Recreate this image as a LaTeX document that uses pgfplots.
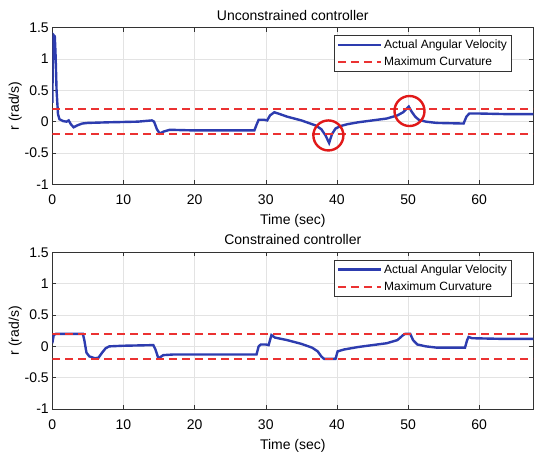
\documentclass[border=0pt]{standalone}
\usepackage{fontspec}
\setmainfont{Liberation Sans}
\usepackage{pgfplots}
\pgfplotsset{compat=1.18}

\definecolor{mblue}{RGB}{45,60,175}
\definecolor{mred}{RGB}{235,50,50}
\definecolor{cred}{RGB}{225,25,25}

\pgfplotsset{
  ctrl/.style={
    width=481pt, height=156.6pt, scale only axis,
    xmin=0, xmax=67.6, ymin=-1, ymax=1.5,
    xtick={0,10,...,60}, ytick={-1,-0.5,0,0.5,1,1.5},
    tick align=inside, xtick pos=both, ytick pos=both,
    major tick length=4pt,
    grid=major, grid style={gray!22, line width=0.5pt},
    axis line style={black!80, line width=0.6pt},
    tick style={black!80, line width=0.5pt},
    /pgf/number format/assume math mode=true,
    tick label style={font=\fontsize{14}{16}\selectfont},
    xticklabel style={yshift=-7pt},
    label style={font=\fontsize{14}{16}\selectfont},
    title style={font=\fontsize{14}{16}\selectfont, yshift=-2pt},
    xlabel={Time (sec)}, ylabel={r (rad/s)},
    xlabel style={yshift=-3pt}, ylabel style={yshift=-4pt},
    legend style={font=\fontsize{12}{13}\selectfont, draw=black!80,
      at={(0.955,0.953)}, anchor=north east, inner sep=2.5pt,
      row sep=3pt, line width=0.6pt},
    legend cell align=left,
  },
  vel/.style={mblue, line width=2.4pt,
    legend image code/.code={\draw[mblue, line width=2.4pt] (0pt,0pt) -- (43pt,0pt);}},
  lim/.style={mred, line width=1.5pt, dash pattern=on 8pt off 5pt,
    legend image code/.code={\draw[mred, line width=1.5pt, dash pattern=on 8pt off 5pt] (0pt,0pt) -- (43pt,0pt);}},
}

\begin{document}
\begin{tikzpicture}
\begin{axis}[ctrl, title={Unconstrained controller}]
\addplot[vel] coordinates {
(0,0.3) (0.1,1.2) (0.2,1.38) (0.35,1.36) (0.45,1.1) (0.6,0.5) (0.8,0.12)
(1.0,0.04) (1.5,0.01) (2.0,0.0) (2.3,0.02) (2.6,-0.04) (3.0,-0.09) (3.5,-0.06)
(4.2,-0.03) (5,-0.02) (8,-0.01) (12,0.0) (14,0.02) (14.3,0.0) (14.7,-0.12)
(15.1,-0.19) (15.6,-0.16) (16.5,-0.13) (20,-0.14) (25,-0.14) (28.4,-0.14)
(28.7,-0.05) (29,0.03) (29.8,0.03) (30.2,0.02) (30.6,0.1) (31.2,0.15) (32,0.12)
(33,0.08) (34,0.05) (35,0.02) (36,-0.02) (37,-0.06) (37.8,-0.12) (38.4,-0.22)
(38.9,-0.34) (39.3,-0.2) (39.8,-0.11) (40.5,-0.07) (41.5,-0.04) (43,-0.01)
(45,0.02) (47,0.05) (48.5,0.1) (49.3,0.15) (50.1,0.24) (50.5,0.16) (51,0.08)
(51.5,0.03) (52.5,0.0) (54,-0.02) (57.8,-0.03) (58.2,0.08) (58.6,0.13)
(60,0.13) (64,0.12) (67.6,0.12)
};
\addlegendentry{Actual Angular Velocity}
\addplot[lim] coordinates {(0,0.2) (67.6,0.2)};
\addlegendentry{Maximum Curvature}
\addplot[lim, forget plot] coordinates {(0,-0.2) (67.6,-0.2)};
\addplot[only marks, mark=o, mark size=15pt, cred, line width=2.4pt, forget plot]
  coordinates {(38.8,-0.22) (50.2,0.17)};
\end{axis}

\begin{axis}[ctrl, at={(0,-224.7pt)}, title={Constrained controller}]
\addplot[vel] coordinates {
(0,0.05) (0.2,0.18) (0.5,0.2) (4.3,0.2) (4.5,0.1) (4.8,-0.1) (5.2,-0.16)
(6,-0.19) (6.5,-0.18) (7,-0.1) (7.5,-0.03) (8,0.0) (10,0.01) (14.2,0.02)
(14.5,-0.05) (14.9,-0.19) (15.2,-0.17) (15.6,-0.14) (17,-0.13) (25,-0.13)
(28.7,-0.13) (29,0.0) (29.3,0.03) (30,0.03) (30.4,0.02) (30.8,0.18) (31.3,0.14)
(33,0.1) (35,0.04) (36.5,-0.02) (37.3,-0.08) (37.8,-0.16) (38.2,-0.2)
(39.8,-0.2) (40.1,-0.08) (41,-0.05) (43,-0.01) (45,0.02) (47,0.05) (48.5,0.1)
(49.3,0.18) (49.6,0.2) (50.3,0.2) (50.7,0.1) (51.3,0.03) (52.5,0.0) (54,-0.02)
(58,-0.02) (58.3,0.1) (58.5,0.15) (59,0.13) (63,0.12) (67.6,0.12)
};
\addlegendentry{Actual Angular Velocity}
\addplot[lim] coordinates {(0,0.2) (67.6,0.2)};
\addlegendentry{Maximum Curvature}
\addplot[lim, forget plot] coordinates {(0,-0.2) (67.6,-0.2)};
\end{axis}
\pgfresetboundingbox
\path (-52.3pt,184.3pt) rectangle (481.7pt,-267.7pt);
\end{tikzpicture}
\end{document}
